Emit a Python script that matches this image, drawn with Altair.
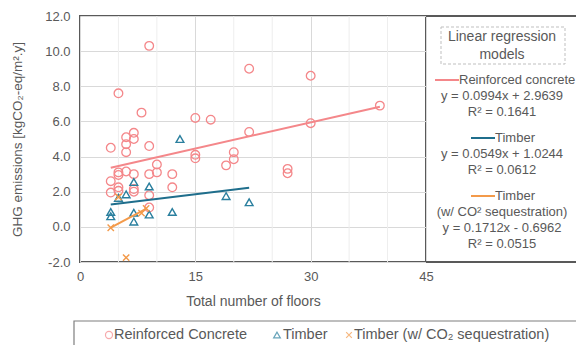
import altair as alt
import pandas as pd

FONT = "Liberation Sans"
TXT = "#595959"
RC_COL = "#F4878A"
TB_COL = "#1F6E8C"
CO2_COL = "#F39A4A"

# Reinforced concrete points (floors, GHG)
rc_x = [9, 22, 30, 5, 8, 39, 15, 17, 30, 22, 7, 6, 7, 6, 9, 4, 6, 20, 15, 15, 20, 10, 19, 27,
        10, 5, 6, 5, 7, 9, 12, 27, 4, 12, 5, 5, 7, 7, 4, 9, 9]
rc_y = [10.3, 9.0, 8.6, 7.6, 6.5, 6.9, 6.2, 6.1, 5.9, 5.4, 5.35, 5.1, 5.0, 4.7, 4.6, 4.5, 4.25, 4.25, 4.1, 3.9, 3.85, 3.55, 3.5, 3.3,
        3.1, 3.1, 3.15, 2.95, 3.0, 3.0, 3.0, 3.05, 2.6, 2.25, 2.25, 2.05, 2.15, 2.0, 1.95, 1.8, 1.1]
# Timber points
tb_x = [13, 7, 9, 6, 5, 19, 22, 4, 4, 7, 9, 12, 7]
tb_y = [5.0, 2.55, 2.3, 1.85, 1.65, 1.75, 1.4, 0.85, 0.6, 0.8, 0.7, 0.85, 0.3]
# Timber with CO2 sequestration
co2_x = [4, 6, 5, 8, 8.6]
co2_y = [-0.05, -1.75, 1.7, 0.78, 1.05]

# Regression lines (end points)
fit_series = ["Reinforced concrete", "Timber", "Timber (w/ CO2 sequestration)"]
fit_x0 = [4, 4, 4]
fit_x1 = [39, 22, 8.7]
fit_y0 = [3.36, 1.27, -0.05]
fit_y1 = [6.84, 2.23, 1.05]
fit_colors = [RC_COL, TB_COL, CO2_COL]

x_ticks = [0, 15, 30, 45]
x_minor = [5, 10, 20, 25, 35, 40]
y_ticks = [-2, 0, 2, 4, 6, 8, 10, 12]

W, H = 346, 246

xscale = alt.Scale(domain=[0, 45], nice=False, zero=False)
yscale = alt.Scale(domain=[-2, 12], nice=False, zero=False)

xaxis = alt.Axis(values=x_ticks, title="Total number of floors", grid=True, gridColor="#d9d9d9",
                 domain=False, ticks=False, labelPadding=8, titlePadding=11,
                 labelFlush=False, labelOverlap=False,
                 labelFont=FONT, titleFont=FONT, labelFontSize=13, titleFontSize=14,
                 labelColor=TXT, titleColor=TXT, titleFontWeight="normal")
yaxis = alt.Axis(values=y_ticks, title="GHG emissions [kgCO₂-eq/m².y]", grid=True,
                 labelExpr="replace(format(datum.value, '.1f'), '\u2212', '-')",
                 gridColor="#d9d9d9", domain=False, ticks=False, labelPadding=10, titlePadding=20,
                 labelFlush=False, labelOverlap=False, labelBound=False,
                 labelFont=FONT, titleFont=FONT, labelFontSize=13, titleFontSize=13.5,
                 labelColor=TXT, titleColor=TXT, titleFontWeight="normal")

df_rc = pd.DataFrame({"x": rc_x, "y": rc_y})
df_tb = pd.DataFrame({"x": tb_x, "y": tb_y})
df_co2 = pd.DataFrame({"x": co2_x, "y": co2_y})
df_fit = pd.DataFrame({"series": fit_series, "x0": fit_x0, "x1": fit_x1, "y0": fit_y0, "y1": fit_y1,
                       "color": fit_colors})
df_minor = pd.DataFrame({"x": x_minor})

XE = alt.X("x:Q", scale=xscale, axis=xaxis)
YE = alt.Y("y:Q", scale=yscale, axis=yaxis)

minor = alt.Chart(df_minor).mark_rule(color="#eeeeee", strokeWidth=1).encode(x=XE)

XSHAPE = "M-1,-1L1,1M-1,1L1,-1"

pts_rc = alt.Chart(df_rc).mark_point(shape="circle", filled=False, size=75, strokeWidth=1.3,
                                     color=RC_COL, opacity=1).encode(x=XE, y=YE)
pts_tb = alt.Chart(df_tb).mark_point(shape="triangle-up", filled=False, size=60, strokeWidth=1.4,
                                     color="#2A7F9E", opacity=1).encode(x=XE, y=YE)
pts_co2 = alt.Chart(df_co2).mark_point(shape=XSHAPE, filled=False, size=40, strokeWidth=1.4,
                                       color=CO2_COL, opacity=1).encode(x=XE, y=YE)

fits = alt.Chart(df_fit).mark_rule(strokeWidth=2).encode(
    x=alt.X("x0:Q", scale=xscale, axis=xaxis), x2="x1:Q",
    y=alt.Y("y0:Q", scale=yscale, axis=yaxis), y2="y1:Q",
    color=alt.Color("color:N", scale=None))

one = pd.DataFrame({"a": [0]})


def label(text, x, y, align="center", size=13, color=TXT):
    return alt.Chart(one).mark_text(text=text, align=align, baseline="middle", fontSize=size,
                                    font=FONT, color=color).encode(x=alt.value(x), y=alt.value(y))


def hline(x1, x2, y, color, width=2, dash=None):
    kw = dict(color=color, strokeWidth=width)
    if dash:
        kw["strokeDash"] = dash
    return alt.Chart(one).mark_rule(**kw).encode(x=alt.value(x1), x2=alt.value(x2), y=alt.value(y))


# Frame extension around the regression-model panel
frame = [
    hline(W, 520, 0, "#595959", 2),
    hline(W, 520, H, "#595959", 2),
]

dash_box = alt.Chart(one).mark_rect(fill=None, stroke="#bfbfbf", strokeWidth=1, strokeDash=[3, 2]).encode(
    x=alt.value(361), x2=alt.value(485), y=alt.value(11), y2=alt.value(48))

OX, OY = 80, 16
panel = [
    dash_box,
    label("Linear regression", 502 - OX, 37 - OY, size=14),
    label("models", 502 - OX, 55 - OY, size=14),
    hline(435 - OX, 459 - OX, 80 - OY, RC_COL),
    label("Reinforced concrete", 459 - OX, 80 - OY, align="left"),
    label("y = 0.0994x + 2.9639", 502 - OX, 96 - OY),
    label("R² = 0.1641", 502 - OX, 112 - OY),
    hline(471 - OX, 495 - OX, 138 - OY, TB_COL),
    label("Timber", 495 - OX, 138 - OY, align="left"),
    label("y = 0.0549x + 1.0244", 502 - OX, 154 - OY),
    label("R² = 0.0612", 502 - OX, 170 - OY),
    hline(471 - OX, 495 - OX, 196 - OY, CO2_COL),
    label("Timber", 495 - OX, 196 - OY, align="left"),
    label("(w/ CO² sequestration)", 502 - OX, 212 - OY),
    label("y = 0.1712x - 0.6962", 502 - OX, 228 - OY),
    label("R² = 0.0515", 502 - OX, 244 - OY),
]

# Bottom legend
leg_box = alt.Chart(one).mark_rect(fill=None, stroke="#7f7f7f", strokeWidth=1.2).encode(
    x=alt.value(74 - OX), x2=alt.value(560), y=alt.value(321 - OY), y2=alt.value(370))
LY = 335 - OY
legend = [
    leg_box,
    alt.Chart(one).mark_point(shape="circle", filled=False, size=50, strokeWidth=1.2, color=RC_COL).encode(
        x=alt.value(109 - OX), y=alt.value(LY)),
    label("Reinforced Concrete", 114 - OX, LY, align="left", size=14.5),
    alt.Chart(one).mark_point(shape="triangle-up", filled=False, size=45, strokeWidth=1.2, color="#2A7F9E").encode(
        x=alt.value(277 - OX), y=alt.value(LY)),
    label("Timber", 283 - OX, LY, align="left", size=14.5),
    alt.Chart(one).mark_point(shape=XSHAPE, filled=False, size=32, strokeWidth=1.2, color=CO2_COL).encode(
        x=alt.value(349 - OX), y=alt.value(LY)),
    label("Timber (w/ CO₂ sequestration)", 354 - OX, LY, align="left", size=14.5),
]

chart = alt.layer(minor, pts_rc, pts_tb, pts_co2, fits, *frame, *panel, *legend).properties(
    width=W, height=H,
    padding={"left": OX, "top": OY, "right": 576 - OX - W, "bottom": 345 - OY - H},
    autosize=alt.AutoSizeParams(type="none"),
    background="white",
).configure_view(stroke="#595959", strokeWidth=2)

chart.save("out.html", embed_options={"renderer": "svg", "actions": False})
